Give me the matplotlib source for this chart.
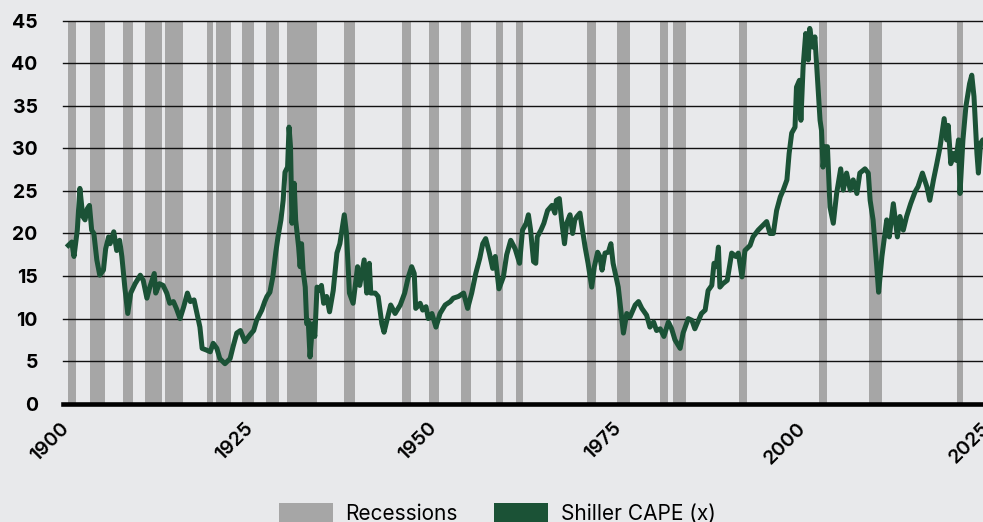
import matplotlib.pyplot as plt
from matplotlib.patches import Patch

# recession spans (start, end) in decimal years
rec_start = [1899.39, 1902.38, 1906.86, 1909.84, 1912.56, 1918.26, 1919.48, 1922.97, 1926.23,
             1929.08, 1936.86, 1944.74, 1948.41, 1952.80, 1957.50, 1960.20, 1969.86, 1973.93,
             1979.77, 1981.53, 1990.50, 2001.36, 2008.15, 2020.10]
rec_end = [1900.48, 1904.41, 1908.21, 1912.15, 1915.00, 1919.08, 1921.52, 1924.60, 1927.99,
           1933.15, 1938.36, 1945.96, 1949.76, 1954.16, 1958.45, 1961.17, 1971.08, 1975.70,
           1980.86, 1983.30, 1991.58, 2002.44, 2009.92, 2020.90]

# Shiller CAPE
cape_year = [1899.43, 1899.9, 1900.2, 1900.65, 1901.0, 1901.4, 1901.7, 1902.0, 1902.3, 1902.6,
             1902.9, 1903.3, 1903.7, 1904.2, 1904.5, 1904.9, 1905.1, 1905.6, 1906.0, 1906.4,
             1906.7, 1907.1, 1907.5, 1907.9, 1908.5, 1909.2, 1909.6, 1910.1, 1910.5, 1911.1,
             1911.3, 1911.8, 1912.3, 1912.8, 1913.2, 1913.7, 1914.1, 1914.6, 1915.1, 1915.6,
             1916.0, 1916.5, 1916.9, 1917.3, 1917.6, 1918.2, 1918.7, 1919.1, 1919.6, 1920.0,
             1920.7, 1921.4, 1921.8, 1922.3, 1922.8, 1923.4, 1924.1, 1924.6, 1925.0, 1925.7,
             1926.1, 1926.4, 1926.8, 1927.2, 1927.6, 1927.9, 1928.3, 1928.6, 1928.85, 1929.2,
             1929.4, 1929.6, 1929.8, 1930.1, 1930.3, 1930.7, 1930.9, 1931.1, 1931.3, 1931.6,
             1931.8, 1932.0, 1932.25, 1932.6, 1932.9, 1933.2, 1933.5, 1933.8, 1934.1, 1934.5,
             1934.9, 1935.4, 1935.9, 1936.3, 1936.9, 1937.2, 1937.6, 1938.1, 1938.7, 1939.0,
             1939.6, 1939.95, 1940.3, 1940.5, 1941.1, 1941.5, 1942.0, 1942.3, 1942.7, 1943.2,
             1943.8, 1944.5, 1945.1, 1945.6, 1946.05, 1946.4, 1946.6, 1947.2, 1947.55, 1948.0,
             1948.3, 1948.8, 1949.35, 1949.9, 1950.6, 1951.3, 1951.7, 1952.4, 1953.1, 1953.65,
             1954.2, 1954.75, 1955.3, 1955.7, 1956.1, 1956.6, 1957.05, 1957.4, 1957.9, 1958.5,
             1958.95, 1959.5, 1960.1, 1960.7, 1961.1, 1961.6, 1961.9, 1962.2, 1962.6, 1962.9,
             1963.1, 1963.6, 1964.0, 1964.5, 1965.1, 1965.5, 1965.7, 1966.1, 1966.4, 1966.8,
             1967.1, 1967.55, 1967.9, 1968.2, 1968.5, 1968.9, 1969.1, 1969.6, 1970.0, 1970.5,
             1970.85, 1971.3, 1971.6, 1971.9, 1972.3, 1972.75, 1973.1, 1973.4, 1973.8, 1974.1,
             1974.4, 1974.8, 1975.25, 1975.7, 1976.4, 1976.85, 1977.3, 1977.95, 1978.4, 1978.9,
             1979.3, 1979.8, 1980.3, 1980.9, 1981.35, 1981.8, 1982.5, 1982.9, 1983.6, 1984.1,
             1984.5, 1985.0, 1985.4, 1985.9, 1986.3, 1986.8, 1987.1, 1987.4, 1987.7, 1987.9,
             1988.3, 1988.9, 1989.5, 1990.05, 1990.4, 1990.9, 1991.3, 1992.0, 1992.4, 1993.1,
             1993.8, 1994.25, 1994.7, 1995.15, 1995.6, 1996.1, 1996.5, 1997.0, 1997.3, 1997.65,
             1998.1, 1998.3, 1998.7, 1998.9, 1999.2, 1999.55, 1999.9, 2000.1, 2000.5, 2000.8,
             2001.2, 2001.5, 2001.7, 2001.9, 2002.2, 2002.5, 2002.85, 2003.3, 2003.75, 2004.3,
             2004.65, 2005.1, 2005.6, 2006.0, 2006.5, 2006.9, 2007.6, 2008.05, 2008.3, 2008.7,
             2009.2, 2009.45, 2009.9, 2010.3, 2010.55, 2010.9, 2011.45, 2012.0, 2012.35, 2012.8,
             2013.25, 2013.8, 2014.4, 2014.8, 2015.4, 2016.0, 2016.4, 2016.9, 2017.35, 2017.8,
             2018.35, 2018.7, 2018.9, 2019.25, 2019.6, 2019.95, 2020.3, 2020.5, 2020.9, 2021.3,
             2021.8, 2022.1, 2022.4, 2022.8, 2023.0, 2023.3, 2023.6, 2024.0]
cape = [18.6, 19.0, 17.3, 20.4, 25.3, 22.0, 21.6, 22.9, 23.3, 20.4,
        20.0, 16.9, 15.1, 15.7, 18.2, 19.6, 18.8, 20.2, 18.0, 19.2,
        17.3, 13.7, 10.6, 13.0, 14.1, 15.1, 14.5, 12.4, 13.7, 15.3,
        13.0, 14.1, 13.9, 13.0, 11.8, 12.0, 11.2, 10.0, 11.4, 13.0,
        12.0, 12.2, 10.6, 9.0, 6.5, 6.3, 6.1, 7.1, 6.5, 5.3,
        4.7, 5.3, 6.7, 8.3, 8.6, 7.3, 8.1, 8.6, 9.8, 11.0,
        12.0, 12.6, 13.1, 14.9, 17.8, 19.6, 21.6, 23.9, 27.2, 27.8,
        32.5, 30.2, 21.2, 25.9, 21.6, 18.4, 16.1, 18.8, 15.7, 13.7,
        9.4, 9.8, 5.5, 9.4, 7.9, 13.7, 13.3, 13.9, 11.8, 12.6,
        10.8, 13.3, 17.7, 18.8, 22.2, 20.0, 13.0, 11.8, 16.1, 13.9,
        16.9, 13.0, 16.5, 13.0, 13.0, 12.6, 9.4, 8.4, 9.8, 11.6,
        10.6, 11.6, 13.0, 14.9, 16.1, 15.3, 11.2, 11.8, 11.0, 11.4,
        10.0, 10.6, 9.0, 10.6, 11.6, 12.0, 12.4, 12.6, 13.0, 11.2,
        13.0, 15.3, 17.1, 18.8, 19.4, 17.7, 15.9, 17.3, 13.5, 14.9,
        17.5, 19.2, 18.2, 16.5, 20.4, 21.2, 22.2, 20.4, 16.7, 16.5,
        19.6, 20.4, 21.2, 22.7, 23.3, 22.4, 23.9, 24.1, 21.6, 18.8,
        21.2, 22.2, 20.0, 21.6, 22.0, 22.4, 21.2, 18.4, 16.5, 13.7,
        16.1, 17.8, 17.3, 15.7, 17.7, 17.8, 18.8, 16.5, 14.9, 13.7,
        11.4, 8.3, 10.6, 10.2, 11.6, 12.0, 11.2, 10.4, 9.0, 9.6,
        8.6, 8.8, 7.9, 9.6, 8.8, 7.5, 6.5, 8.3, 10.0, 9.8,
        8.8, 9.8, 10.6, 11.0, 13.3, 13.9, 16.5, 16.1, 18.4, 13.7,
        14.1, 14.5, 17.7, 17.3, 17.7, 14.9, 18.0, 18.6, 19.6, 20.4,
        21.0, 21.4, 20.0, 20.0, 22.7, 24.3, 25.1, 26.3, 29.4, 31.8,
        32.5, 37.2, 38.0, 33.3, 39.6, 43.5, 40.4, 44.1, 41.9, 43.1,
        37.6, 33.3, 32.1, 27.8, 30.2, 30.2, 23.1, 21.2, 24.7, 27.6,
        25.1, 27.1, 25.1, 26.3, 24.7, 27.1, 27.6, 27.1, 23.9, 21.6,
        16.1, 13.1, 17.3, 20.0, 21.6, 19.6, 23.5, 19.6, 22.0, 20.4,
        22.0, 23.5, 24.9, 25.5, 27.1, 25.5, 23.9, 26.3, 28.2, 30.2,
        33.5, 31.0, 32.7, 28.2, 29.4, 28.6, 31.0, 24.7, 31.0, 34.9,
        37.6, 38.6, 36.1, 29.4, 27.1, 30.6, 31.0, 30.5]

y_ticks = [0, 5, 10, 15, 20, 25, 30, 35, 40, 45]
x_ticks = [1900, 1925, 1950, 1975, 2000, 2025]

bg = '#e8e9eb'
rec_color = '#a6a6a6'
line_color = '#1b5236'

plt.rcParams['font.family'] = ['Inter', 'DejaVu Sans']

fig = plt.figure(figsize=(9.83, 5.22), dpi=100, facecolor=bg)
ax = fig.add_axes([0.0638, 0.2266, 0.954, 0.7337])
ax.set_facecolor(bg)

for s, e in zip(rec_start, rec_end):
    ax.axvspan(s, e, color=rec_color, lw=0, zorder=1)

for yv in y_ticks[1:]:
    ax.axhline(yv, color='#111111', lw=1.0, zorder=2, clip_on=False)
ax.axhline(0, color='black', lw=3.3, zorder=4, clip_on=False)

ax.plot(cape_year, cape, color=line_color, lw=3.6, zorder=3, solid_joinstyle='round')

ax.set_xlim(1898.67, 2026)
ax.set_ylim(0, 45)
ax.set_yticks(y_ticks)
ax.set_xticks(x_ticks)
for sp in ax.spines.values():
    sp.set_visible(False)
ax.tick_params(axis='both', length=0, labelsize=14)
ax.tick_params(axis='y', pad=18)
ax.tick_params(axis='x', pad=11)
for lab in ax.get_yticklabels():
    lab.set_fontweight('bold')
for lab in ax.get_xticklabels():
    lab.set_fontweight('semibold')
    lab.set_rotation(45)
    lab.set_ha('right')

handles = [Patch(facecolor=rec_color, edgecolor='none', label='Recessions'),
           Patch(facecolor=line_color, edgecolor='none', label='Shiller CAPE (x)')]
fig.legend(handles=handles, loc='upper center', bbox_to_anchor=(0.5056, 0.056), ncol=2,
           frameon=False, fontsize=15, handlelength=2.6, handleheight=1.0,
           handletextpad=0.58, columnspacing=1.78, borderpad=0)

fig.savefig('out.png', dpi=100, facecolor=bg)
